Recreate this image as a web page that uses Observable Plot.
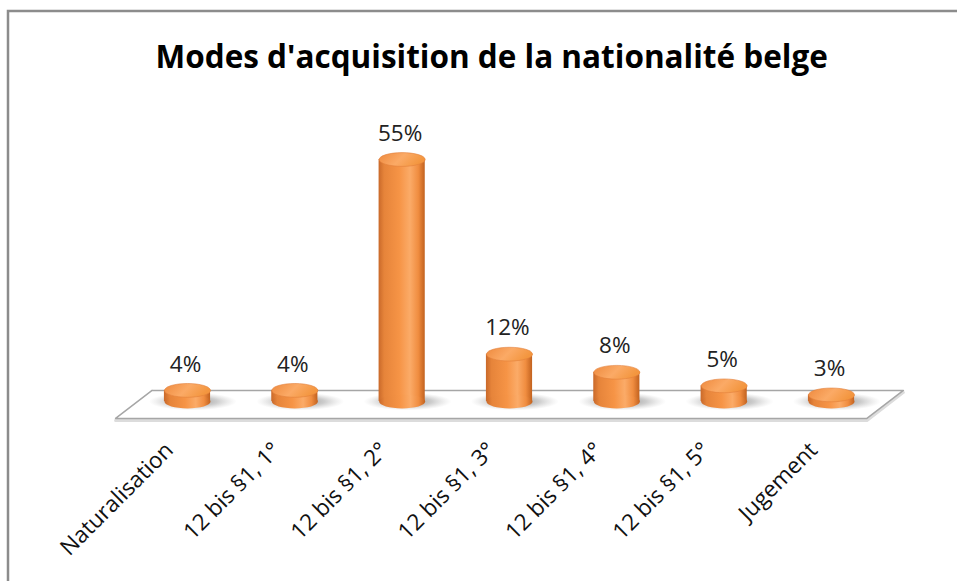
<!DOCTYPE html>
<html><head><meta charset="utf-8">
<script src="https://cdn.jsdelivr.net/npm/d3@7"></script>
<script src="https://cdn.jsdelivr.net/npm/@observablehq/plot@0.6"></script>
<style>body{margin:0;background:#fff}</style>
</head><body><div id="chart"></div>
<script>
const title = "Modes d'acquisition de la nationalité belge";
const categories = ["Naturalisation", "12 bis §1, 1°", "12 bis §1, 2°", "12 bis §1, 3°", "12 bis §1, 4°", "12 bis §1, 5°", "Jugement"];
const values = [4, 4, 55, 12, 8, 5, 3];
const valueLabels = ["4%", "4%", "55%", "12%", "8%", "5%", "3%"];

const data = categories.map((c, i) => ({i, c, v: values[i], label: valueLabels[i]}));
const n = categories.length;

// ellipse symbol for cylinder caps and shadows
const ellipse = (ratio) => ({
  draw(ctx, size) {
    const rx = Math.sqrt(size / Math.PI), ry = rx * ratio, k = 0.5523;
    const kx = rx * k, ky = ry * k;
    ctx.moveTo(rx, 0);
    ctx.bezierCurveTo(rx, ky, kx, ry, 0, ry);
    ctx.bezierCurveTo(-kx, ry, -rx, ky, -rx, 0);
    ctx.bezierCurveTo(-rx, -ky, -kx, -ry, 0, -ry);
    ctx.bezierCurveTo(kx, -ry, rx, -ky, rx, 0);
    ctx.closePath();
  }
});

const svgns = "http://www.w3.org/2000/svg";
function defsMark() {
  const defs = document.createElementNS(svgns, "defs");
  defs.innerHTML = `
    <linearGradient id="cylBody" x1="0" x2="1" y1="0" y2="0">
      <stop offset="0" stop-color="#c9692a"/>
      <stop offset="0.12" stop-color="#e6843a"/>
      <stop offset="0.45" stop-color="#f69446"/>
      <stop offset="0.68" stop-color="#fbab68"/>
      <stop offset="0.86" stop-color="#f08d40"/>
      <stop offset="1" stop-color="#c2621f"/>
    </linearGradient>
    <linearGradient id="cylTop" x1="0" x2="1" y1="0" y2="0.3">
      <stop offset="0" stop-color="#ee8a3e"/>
      <stop offset="0.55" stop-color="#fbaa66"/>
      <stop offset="1" stop-color="#f3963f"/>
    </linearGradient>
    <radialGradient id="shadow" cx="0.5" cy="0.5" r="0.5">
      <stop offset="0" stop-color="#7a7a7a" stop-opacity="0.85"/>
      <stop offset="0.55" stop-color="#9a9a9a" stop-opacity="0.5"/>
      <stop offset="1" stop-color="#bbbbbb" stop-opacity="0"/>
    </radialGradient>`;
  return defs;
}
function borderMark(index, scales, values, dims) {
  const p = document.createElementNS(svgns, "path");
  p.setAttribute("d", `M8,${dims.height}V11H${dims.width}`);
  p.setAttribute("fill", "none");
  p.setAttribute("stroke", "#8c8c8c");
  p.setAttribute("stroke-width", "2.5");
  return p;
}

// floor parallelogram (in scale units)
const floorBack = 4, floorFront = -2.2, skew = 0.17;
const floor = [
  {x: -0.5 + skew, y: floorBack},
  {x: n - 0.5 + skew, y: floorBack},
  {x: n - 0.5 - skew, y: floorFront},
  {x: -0.5 - skew, y: floorFront},
  {x: -0.5 + skew, y: floorBack}
];
const halfW = 0.215;

const chart = Plot.plot({
  width: 957,
  height: 581,
  marginTop: 0, marginRight: 0, marginLeft: 0, marginBottom: 142,
  style: {fontFamily: "'Open Sans', Lato, sans-serif", background: "#fff", overflow: "visible"},
  x: {type: "linear", domain: [0, n - 1], range: [187, 831], axis: null},
  y: {domain: [0, 55], range: [408, 159], axis: null},
  marks: [
    defsMark,
    borderMark,
    Plot.line(floor, {x: "x", y: "y", stroke: "#dcdcdc", strokeWidth: 3, dy: 2}),
    Plot.line(floor, {x: "x", y: "y", fill: "#fff", stroke: "#a6a6a6", strokeWidth: 1.5}),
    Plot.dot(data, {x: d => d.i + 0.05, y: 0, dy: -7, r: 44, symbol: ellipse(0.2), fill: "url(#shadow)", stroke: null}),
    Plot.rectY(data, {x1: d => d.i - halfW, x2: d => d.i + halfW, y1: 0, y2: "v", insetBottom: 7, fill: "url(#cylBody)"}),
    Plot.dot(data, {x: "i", y: 0, dy: -7, r: 23, symbol: ellipse(0.3), fill: "url(#cylBody)", stroke: null}),
    Plot.dot(data, {x: "i", y: "v", r: 23, symbol: ellipse(0.3), fill: "url(#cylTop)", stroke: "#e3803a", strokeWidth: 0.6}),
    Plot.text(data, {x: "i", y: "v", text: "label", dy: -26, dx: -2, fontSize: 22.5, fill: "#222", lineAnchor: "middle"}),
    Plot.axisX(data.map(d => d.i), {
      tickFormat: i => categories[i], tickRotate: -45, tickSize: 0, tickPadding: 0,
      dx: -18, dy: 7, fontSize: 22.5, fill: "#111", label: null
    }),
    Plot.text([title], {frameAnchor: "top-left", dx: 155, dy: 57, text: d => d, textAnchor: "start", lineAnchor: "middle", fontSize: 31.5, fontWeight: "bold", fill: "#000"})
  ]
});
document.getElementById("chart").append(chart);
</script>
</body></html>
